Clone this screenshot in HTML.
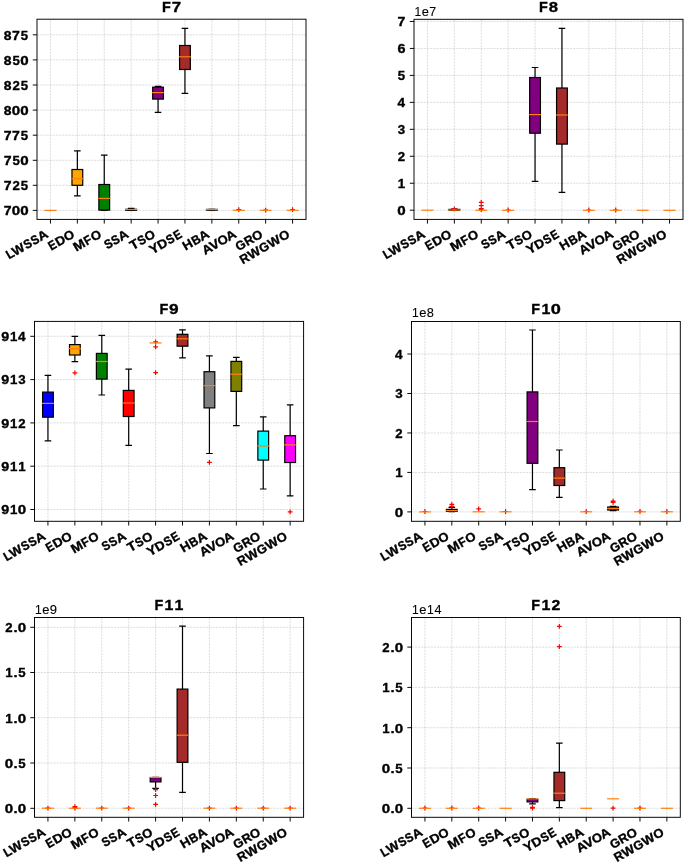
<!DOCTYPE html><html><head><meta charset="utf-8"><style>html,body{margin:0;padding:0;background:#fff;}svg{display:block;}svg{will-change:transform}</style></head><body><svg width="685" height="864" viewBox="0 0 685 864" font-family="Liberation Sans, sans-serif">
<rect width="685" height="864" fill="#fff"/>
<clipPath id="c0"><rect x="37" y="19.2" width="269" height="200.2"/></clipPath>
<path d="M50.45 219.4V19.2M77.35 219.4V19.2M104.25 219.4V19.2M131.15 219.4V19.2M158.05 219.4V19.2M184.95 219.4V19.2M211.85 219.4V19.2M238.75 219.4V19.2M265.65 219.4V19.2M292.55 219.4V19.2M37 210.4H306M37 185.3H306M37 160.3H306M37 135.2H306M37 110.1H306M37 85H306M37 59.9H306M37 34.8H306" stroke="#b0b0b0" stroke-width="0.6" stroke-opacity="0.7" stroke-dasharray="2.22 0.96" fill="none" clip-path="url(#c0)"/>
<path d="M45.07 210.4H55.83" stroke="#ff7f0e" stroke-width="1.2" stroke-linecap="square"/>
<path d="M77.35 185.3V195.8 M77.35 169.5V150.95 M74.66 195.8H80.04 M74.66 150.95H80.04" stroke="#000" stroke-width="1.2" stroke-linecap="square" fill="none"/>
<rect x="71.97" y="169.5" width="10.76" height="15.8" fill="#ffa500" stroke="#000" stroke-width="1.2"/>
<path d="M71.97 178.7H82.73" stroke="#ff7f0e" stroke-width="1.2" stroke-linecap="square"/>
<path d="M104.25 210.1V210.3 M104.25 184.5V155.2 M101.56 210.3H106.94 M101.56 155.2H106.94" stroke="#000" stroke-width="1.2" stroke-linecap="square" fill="none"/>
<rect x="98.87" y="184.5" width="10.76" height="25.6" fill="#008000" stroke="#000" stroke-width="1.2"/>
<path d="M98.87 198.4H109.63" stroke="#ff7f0e" stroke-width="1.2" stroke-linecap="square"/>
<path d="M131.15 210.3V210.4 M131.15 209.3V208.3 M128.46 210.4H133.84 M128.46 208.3H133.84" stroke="#000" stroke-width="1.2" stroke-linecap="square" fill="none"/>
<rect x="125.77" y="209.3" width="10.76" height="1" fill="#ff0000" stroke="#000" stroke-width="1.2"/>
<path d="M125.77 209.5H136.53" stroke="#ff7f0e" stroke-width="1.2" stroke-linecap="square"/>
<path d="M158.05 99.1V112.4 M158.05 87.2V86.3 M155.36 112.4H160.74 M155.36 86.3H160.74" stroke="#000" stroke-width="1.2" stroke-linecap="square" fill="none"/>
<rect x="152.67" y="87.2" width="10.76" height="11.9" fill="#800080" stroke="#000" stroke-width="1.2"/>
<path d="M152.67 92.6H163.43" stroke="#ff7f0e" stroke-width="1.2" stroke-linecap="square"/>
<path d="M184.95 69.5V93.3 M184.95 45.5V28.3 M182.26 93.3H187.64 M182.26 28.3H187.64" stroke="#000" stroke-width="1.2" stroke-linecap="square" fill="none"/>
<rect x="179.57" y="45.5" width="10.76" height="24" fill="#a52a2a" stroke="#000" stroke-width="1.2"/>
<path d="M179.57 56.8H190.33" stroke="#ff7f0e" stroke-width="1.2" stroke-linecap="square"/>
<path d="M211.85 210.2V210.4 M211.85 209.4V209.3 M209.16 210.4H214.54 M209.16 209.3H214.54" stroke="#000" stroke-width="1.2" stroke-linecap="square" fill="none"/>
<rect x="206.47" y="209.4" width="10.76" height="0.8" fill="#808080" stroke="#000" stroke-width="1.2"/>
<path d="M206.47 209.6H217.23" stroke="#ff7f0e" stroke-width="1.2" stroke-linecap="square"/>
<path d="M236.35 209.6H241.15 M238.75 207.2V212" stroke="#f00" stroke-width="1.2" fill="none"/>
<path d="M233.37 210.3H244.13" stroke="#ff7f0e" stroke-width="1.2" stroke-linecap="square"/>
<path d="M263.25 210.1H268.05 M265.65 207.7V212.5" stroke="#f00" stroke-width="1.2" fill="none"/>
<path d="M260.27 210.3H271.03" stroke="#ff7f0e" stroke-width="1.2" stroke-linecap="square"/>
<path d="M290.15 209.6H294.95 M292.55 207.2V212" stroke="#f00" stroke-width="1.2" fill="none"/>
<path d="M287.17 210.3H297.93" stroke="#ff7f0e" stroke-width="1.2" stroke-linecap="square"/>
<rect x="37" y="19.2" width="269" height="200.2" fill="none" stroke="#000" stroke-width="0.96"/>
<path d="M50.45 219.4v4.2M77.35 219.4v4.2M104.25 219.4v4.2M131.15 219.4v4.2M158.05 219.4v4.2M184.95 219.4v4.2M211.85 219.4v4.2M238.75 219.4v4.2M265.65 219.4v4.2M292.55 219.4v4.2M37 210.4h-4.2M37 185.3h-4.2M37 160.3h-4.2M37 135.2h-4.2M37 110.1h-4.2M37 85h-4.2M37 59.9h-4.2M37 34.8h-4.2" stroke="#000" stroke-width="0.96"/>
<text y="0" font-size="12.72" font-weight="bold" transform="translate(3.55 215.26)" stroke="#000" stroke-width="0.35"><tspan x="0.2" textLength="7.81" lengthAdjust="spacingAndGlyphs">7</tspan><tspan x="8.32" textLength="8.42" lengthAdjust="spacingAndGlyphs">0</tspan><tspan x="16.67" textLength="8.42" lengthAdjust="spacingAndGlyphs">0</tspan></text>
<text y="0" font-size="12.72" font-weight="bold" transform="translate(3.55 190.16)" stroke="#000" stroke-width="0.35"><tspan x="0.2" textLength="7.81" lengthAdjust="spacingAndGlyphs">7</tspan><tspan x="8.84" textLength="7.34" lengthAdjust="spacingAndGlyphs">2</tspan><tspan x="17.22" textLength="7.36" lengthAdjust="spacingAndGlyphs">5</tspan></text>
<text y="0" font-size="12.72" font-weight="bold" transform="translate(3.55 165.16)" stroke="#000" stroke-width="0.35"><tspan x="0.2" textLength="7.81" lengthAdjust="spacingAndGlyphs">7</tspan><tspan x="8.87" textLength="7.36" lengthAdjust="spacingAndGlyphs">5</tspan><tspan x="16.67" textLength="8.42" lengthAdjust="spacingAndGlyphs">0</tspan></text>
<text y="0" font-size="12.72" font-weight="bold" transform="translate(3.55 140.06)" stroke="#000" stroke-width="0.35"><tspan x="0.2" textLength="7.81" lengthAdjust="spacingAndGlyphs">7</tspan><tspan x="8.55" textLength="7.81" lengthAdjust="spacingAndGlyphs">7</tspan><tspan x="17.22" textLength="7.36" lengthAdjust="spacingAndGlyphs">5</tspan></text>
<text y="0" font-size="12.72" font-weight="bold" transform="translate(3.55 114.96)" stroke="#000" stroke-width="0.35"><tspan x="0.29" textLength="7.74" lengthAdjust="spacingAndGlyphs">8</tspan><tspan x="8.32" textLength="8.42" lengthAdjust="spacingAndGlyphs">0</tspan><tspan x="16.67" textLength="8.42" lengthAdjust="spacingAndGlyphs">0</tspan></text>
<text y="0" font-size="12.72" font-weight="bold" transform="translate(3.55 89.86)" stroke="#000" stroke-width="0.35"><tspan x="0.29" textLength="7.74" lengthAdjust="spacingAndGlyphs">8</tspan><tspan x="8.84" textLength="7.34" lengthAdjust="spacingAndGlyphs">2</tspan><tspan x="17.22" textLength="7.36" lengthAdjust="spacingAndGlyphs">5</tspan></text>
<text y="0" font-size="12.72" font-weight="bold" transform="translate(3.55 64.76)" stroke="#000" stroke-width="0.35"><tspan x="0.29" textLength="7.74" lengthAdjust="spacingAndGlyphs">8</tspan><tspan x="8.87" textLength="7.36" lengthAdjust="spacingAndGlyphs">5</tspan><tspan x="16.67" textLength="8.42" lengthAdjust="spacingAndGlyphs">0</tspan></text>
<text y="0" font-size="12.72" font-weight="bold" transform="translate(3.55 39.66)" stroke="#000" stroke-width="0.35"><tspan x="0.29" textLength="7.74" lengthAdjust="spacingAndGlyphs">8</tspan><tspan x="8.55" textLength="7.81" lengthAdjust="spacingAndGlyphs">7</tspan><tspan x="17.22" textLength="7.36" lengthAdjust="spacingAndGlyphs">5</tspan></text>
<text y="0" font-size="12.72" font-weight="bold" transform="translate(48.7 236.7) rotate(-30) translate(-45.98 0)" stroke="#000" stroke-width="0.35"><tspan x="0.29" textLength="7.4" lengthAdjust="spacingAndGlyphs">L</tspan><tspan x="7.06" textLength="12.53" lengthAdjust="spacingAndGlyphs">W</tspan><tspan x="20.48" textLength="7.68" lengthAdjust="spacingAndGlyphs">S</tspan><tspan x="28.58" textLength="7.68" lengthAdjust="spacingAndGlyphs">S</tspan><tspan x="36.42" textLength="9.87" lengthAdjust="spacingAndGlyphs">A</tspan></text>
<text y="0" font-size="12.72" font-weight="bold" transform="translate(75.6 236.7) rotate(-30) translate(-28.36 0)" stroke="#000" stroke-width="0.35"><tspan x="0.36" textLength="7.39" lengthAdjust="spacingAndGlyphs">E</tspan><tspan x="8.4" textLength="9.69" lengthAdjust="spacingAndGlyphs">D</tspan><tspan x="18.22" textLength="10.08" lengthAdjust="spacingAndGlyphs">O</tspan></text>
<text y="0" font-size="12.72" font-weight="bold" transform="translate(102.5 236.7) rotate(-30) translate(-30.34 0)" stroke="#000" stroke-width="0.35"><tspan x="0.17" textLength="11.59" lengthAdjust="spacingAndGlyphs">M</tspan><tspan x="12.24" textLength="7.33" lengthAdjust="spacingAndGlyphs">F</tspan><tspan x="20.21" textLength="10.08" lengthAdjust="spacingAndGlyphs">O</tspan></text>
<text y="0" font-size="12.72" font-weight="bold" transform="translate(129.4 236.7) rotate(-30) translate(-26.03 0)" stroke="#000" stroke-width="0.35"><tspan x="0.53" textLength="7.68" lengthAdjust="spacingAndGlyphs">S</tspan><tspan x="8.63" textLength="7.68" lengthAdjust="spacingAndGlyphs">S</tspan><tspan x="16.46" textLength="9.87" lengthAdjust="spacingAndGlyphs">A</tspan></text>
<text y="0" font-size="12.72" font-weight="bold" transform="translate(156.3 236.7) rotate(-30) translate(-27.03 0)" stroke="#000" stroke-width="0.35"><tspan x="-0.1" textLength="8.36" lengthAdjust="spacingAndGlyphs">T</tspan><tspan x="8.71" textLength="7.68" lengthAdjust="spacingAndGlyphs">S</tspan><tspan x="16.89" textLength="10.08" lengthAdjust="spacingAndGlyphs">O</tspan></text>
<text y="0" font-size="12.72" font-weight="bold" transform="translate(183.2 236.7) rotate(-30) translate(-35.49 0)" stroke="#000" stroke-width="0.35"><tspan x="-0.36" textLength="9.39" lengthAdjust="spacingAndGlyphs">Y</tspan><tspan x="8.89" textLength="9.69" lengthAdjust="spacingAndGlyphs">D</tspan><tspan x="19.18" textLength="7.68" lengthAdjust="spacingAndGlyphs">S</tspan><tspan x="27.65" textLength="7.39" lengthAdjust="spacingAndGlyphs">E</tspan></text>
<text y="0" font-size="12.72" font-weight="bold" transform="translate(210.1 236.7) rotate(-30) translate(-28.48 0)" stroke="#000" stroke-width="0.35"><tspan x="0.21" textLength="9.63" lengthAdjust="spacingAndGlyphs">H</tspan><tspan x="10.35" textLength="8.53" lengthAdjust="spacingAndGlyphs">B</tspan><tspan x="18.91" textLength="9.87" lengthAdjust="spacingAndGlyphs">A</tspan></text>
<text y="0" font-size="12.72" font-weight="bold" transform="translate(237 236.7) rotate(-30) translate(-36.71 0)" stroke="#000" stroke-width="0.35"><tspan x="-0.28" textLength="9.87" lengthAdjust="spacingAndGlyphs">A</tspan><tspan x="8.44" textLength="9.36" lengthAdjust="spacingAndGlyphs">V</tspan><tspan x="17.62" textLength="10.08" lengthAdjust="spacingAndGlyphs">O</tspan><tspan x="27.15" textLength="9.87" lengthAdjust="spacingAndGlyphs">A</tspan></text>
<text y="0" font-size="12.72" font-weight="bold" transform="translate(263.9 236.7) rotate(-30) translate(-29.29 0)" stroke="#000" stroke-width="0.35"><tspan x="0.09" textLength="9.64" lengthAdjust="spacingAndGlyphs">G</tspan><tspan x="10.12" textLength="8.99" lengthAdjust="spacingAndGlyphs">R</tspan><tspan x="19.16" textLength="10.08" lengthAdjust="spacingAndGlyphs">O</tspan></text>
<text y="0" font-size="12.72" font-weight="bold" transform="translate(290.8 236.7) rotate(-30) translate(-55.76 0)" stroke="#000" stroke-width="0.35"><tspan x="0.27" textLength="8.99" lengthAdjust="spacingAndGlyphs">R</tspan><tspan x="9.58" textLength="12.53" lengthAdjust="spacingAndGlyphs">W</tspan><tspan x="22.57" textLength="9.64" lengthAdjust="spacingAndGlyphs">G</tspan><tspan x="32.67" textLength="12.53" lengthAdjust="spacingAndGlyphs">W</tspan><tspan x="45.63" textLength="10.08" lengthAdjust="spacingAndGlyphs">O</tspan></text>
<text y="0" font-size="15.26" font-weight="bold" transform="translate(161.57 12)" stroke="#000" stroke-width="0.35"><tspan x="0.36" textLength="8.8" lengthAdjust="spacingAndGlyphs">F</tspan><tspan x="10.08" textLength="9.38" lengthAdjust="spacingAndGlyphs">7</tspan></text>
<clipPath id="c1"><rect x="414" y="19.3" width="269" height="200.1"/></clipPath>
<path d="M427.45 219.4V19.3M454.35 219.4V19.3M481.25 219.4V19.3M508.15 219.4V19.3M535.05 219.4V19.3M561.95 219.4V19.3M588.85 219.4V19.3M615.75 219.4V19.3M642.65 219.4V19.3M669.55 219.4V19.3M414 210.2H683M414 183.24H683M414 156.28H683M414 129.32H683M414 102.36H683M414 75.4H683M414 48.44H683M414 21.48H683" stroke="#b0b0b0" stroke-width="0.6" stroke-opacity="0.7" stroke-dasharray="2.22 0.96" fill="none" clip-path="url(#c1)"/>
<path d="M422.07 210.2H432.83" stroke="#ff7f0e" stroke-width="1.2" stroke-linecap="square"/>
<path d="M454.35 210.2V210.4 M454.35 209.4V209.2 M451.66 210.4H457.04 M451.66 209.2H457.04" stroke="#000" stroke-width="1.2" stroke-linecap="square" fill="none"/>
<rect x="448.97" y="209.4" width="10.76" height="0.8" fill="#ffa500" stroke="#000" stroke-width="1.2"/>
<path d="M451.95 208.9H456.75 M454.35 206.5V211.3" stroke="#f00" stroke-width="1.2" fill="none"/>
<path d="M448.97 210H459.73" stroke="#ff7f0e" stroke-width="1.2" stroke-linecap="square"/>
<path d="M478.85 202.3H483.65 M481.25 199.9V204.7M478.85 205.6H483.65 M481.25 203.2V208M478.85 208.5H483.65 M481.25 206.1V210.9M478.85 209.5H483.65 M481.25 207.1V211.9" stroke="#f00" stroke-width="1.2" fill="none"/>
<path d="M475.87 210.3H486.63" stroke="#ff7f0e" stroke-width="1.2" stroke-linecap="square"/>
<path d="M505.75 210H510.55 M508.15 207.6V212.4" stroke="#f00" stroke-width="1.2" fill="none"/>
<path d="M502.77 210.3H513.53" stroke="#ff7f0e" stroke-width="1.2" stroke-linecap="square"/>
<path d="M535.05 133.2V181.3 M535.05 77.5V67.5 M532.36 181.3H537.74 M532.36 67.5H537.74" stroke="#000" stroke-width="1.2" stroke-linecap="square" fill="none"/>
<rect x="529.67" y="77.5" width="10.76" height="55.7" fill="#800080" stroke="#000" stroke-width="1.2"/>
<path d="M529.67 114.6H540.43" stroke="#ff7f0e" stroke-width="1.2" stroke-linecap="square"/>
<path d="M561.95 144.1V192.3 M561.95 88V28.3 M559.26 192.3H564.64 M559.26 28.3H564.64" stroke="#000" stroke-width="1.2" stroke-linecap="square" fill="none"/>
<rect x="556.57" y="88" width="10.76" height="56.1" fill="#a52a2a" stroke="#000" stroke-width="1.2"/>
<path d="M556.57 115H567.33" stroke="#ff7f0e" stroke-width="1.2" stroke-linecap="square"/>
<path d="M586.45 210H591.25 M588.85 207.6V212.4" stroke="#f00" stroke-width="1.2" fill="none"/>
<path d="M583.47 210.3H594.23" stroke="#ff7f0e" stroke-width="1.2" stroke-linecap="square"/>
<path d="M613.35 210H618.15 M615.75 207.6V212.4" stroke="#f00" stroke-width="1.2" fill="none"/>
<path d="M610.37 210.3H621.13" stroke="#ff7f0e" stroke-width="1.2" stroke-linecap="square"/>
<path d="M637.27 210.3H648.03" stroke="#ff7f0e" stroke-width="1.2" stroke-linecap="square"/>
<path d="M664.17 210.3H674.93" stroke="#ff7f0e" stroke-width="1.2" stroke-linecap="square"/>
<rect x="414" y="19.3" width="269" height="200.1" fill="none" stroke="#000" stroke-width="0.96"/>
<path d="M427.45 219.4v4.2M454.35 219.4v4.2M481.25 219.4v4.2M508.15 219.4v4.2M535.05 219.4v4.2M561.95 219.4v4.2M588.85 219.4v4.2M615.75 219.4v4.2M642.65 219.4v4.2M669.55 219.4v4.2M414 210.2h-4.2M414 183.24h-4.2M414 156.28h-4.2M414 129.32h-4.2M414 102.36h-4.2M414 75.4h-4.2M414 48.44h-4.2M414 21.48h-4.2" stroke="#000" stroke-width="0.96"/>
<text y="0" font-size="12.72" font-weight="bold" transform="translate(397.25 215.06)" stroke="#000" stroke-width="0.35"><tspan x="-0.02" textLength="8.42" lengthAdjust="spacingAndGlyphs">0</tspan></text>
<text y="0" font-size="12.72" font-weight="bold" transform="translate(397.25 188.1)" stroke="#000" stroke-width="0.35"><tspan x="0.52" textLength="7.37" lengthAdjust="spacingAndGlyphs">1</tspan></text>
<text y="0" font-size="12.72" font-weight="bold" transform="translate(397.25 161.14)" stroke="#000" stroke-width="0.35"><tspan x="0.49" textLength="7.34" lengthAdjust="spacingAndGlyphs">2</tspan></text>
<text y="0" font-size="12.72" font-weight="bold" transform="translate(397.25 134.18)" stroke="#000" stroke-width="0.35"><tspan x="0.5" textLength="7.38" lengthAdjust="spacingAndGlyphs">3</tspan></text>
<text y="0" font-size="12.72" font-weight="bold" transform="translate(397.25 107.22)" stroke="#000" stroke-width="0.35"><tspan x="0.33" textLength="7.54" lengthAdjust="spacingAndGlyphs">4</tspan></text>
<text y="0" font-size="12.72" font-weight="bold" transform="translate(397.25 80.26)" stroke="#000" stroke-width="0.35"><tspan x="0.52" textLength="7.36" lengthAdjust="spacingAndGlyphs">5</tspan></text>
<text y="0" font-size="12.72" font-weight="bold" transform="translate(397.25 53.3)" stroke="#000" stroke-width="0.35"><tspan x="0.22" textLength="8.01" lengthAdjust="spacingAndGlyphs">6</tspan></text>
<text y="0" font-size="12.72" font-weight="bold" transform="translate(397.25 26.34)" stroke="#000" stroke-width="0.35"><tspan x="0.2" textLength="7.81" lengthAdjust="spacingAndGlyphs">7</tspan></text>
<text y="0" font-size="12.72" font-weight="bold" transform="translate(425.7 236.7) rotate(-30) translate(-45.98 0)" stroke="#000" stroke-width="0.35"><tspan x="0.29" textLength="7.4" lengthAdjust="spacingAndGlyphs">L</tspan><tspan x="7.06" textLength="12.53" lengthAdjust="spacingAndGlyphs">W</tspan><tspan x="20.48" textLength="7.68" lengthAdjust="spacingAndGlyphs">S</tspan><tspan x="28.58" textLength="7.68" lengthAdjust="spacingAndGlyphs">S</tspan><tspan x="36.42" textLength="9.87" lengthAdjust="spacingAndGlyphs">A</tspan></text>
<text y="0" font-size="12.72" font-weight="bold" transform="translate(452.6 236.7) rotate(-30) translate(-28.36 0)" stroke="#000" stroke-width="0.35"><tspan x="0.36" textLength="7.39" lengthAdjust="spacingAndGlyphs">E</tspan><tspan x="8.4" textLength="9.69" lengthAdjust="spacingAndGlyphs">D</tspan><tspan x="18.22" textLength="10.08" lengthAdjust="spacingAndGlyphs">O</tspan></text>
<text y="0" font-size="12.72" font-weight="bold" transform="translate(479.5 236.7) rotate(-30) translate(-30.34 0)" stroke="#000" stroke-width="0.35"><tspan x="0.17" textLength="11.59" lengthAdjust="spacingAndGlyphs">M</tspan><tspan x="12.24" textLength="7.33" lengthAdjust="spacingAndGlyphs">F</tspan><tspan x="20.21" textLength="10.08" lengthAdjust="spacingAndGlyphs">O</tspan></text>
<text y="0" font-size="12.72" font-weight="bold" transform="translate(506.4 236.7) rotate(-30) translate(-26.03 0)" stroke="#000" stroke-width="0.35"><tspan x="0.53" textLength="7.68" lengthAdjust="spacingAndGlyphs">S</tspan><tspan x="8.63" textLength="7.68" lengthAdjust="spacingAndGlyphs">S</tspan><tspan x="16.46" textLength="9.87" lengthAdjust="spacingAndGlyphs">A</tspan></text>
<text y="0" font-size="12.72" font-weight="bold" transform="translate(533.3 236.7) rotate(-30) translate(-27.03 0)" stroke="#000" stroke-width="0.35"><tspan x="-0.1" textLength="8.36" lengthAdjust="spacingAndGlyphs">T</tspan><tspan x="8.71" textLength="7.68" lengthAdjust="spacingAndGlyphs">S</tspan><tspan x="16.89" textLength="10.08" lengthAdjust="spacingAndGlyphs">O</tspan></text>
<text y="0" font-size="12.72" font-weight="bold" transform="translate(560.2 236.7) rotate(-30) translate(-35.49 0)" stroke="#000" stroke-width="0.35"><tspan x="-0.36" textLength="9.39" lengthAdjust="spacingAndGlyphs">Y</tspan><tspan x="8.89" textLength="9.69" lengthAdjust="spacingAndGlyphs">D</tspan><tspan x="19.18" textLength="7.68" lengthAdjust="spacingAndGlyphs">S</tspan><tspan x="27.65" textLength="7.39" lengthAdjust="spacingAndGlyphs">E</tspan></text>
<text y="0" font-size="12.72" font-weight="bold" transform="translate(587.1 236.7) rotate(-30) translate(-28.48 0)" stroke="#000" stroke-width="0.35"><tspan x="0.21" textLength="9.63" lengthAdjust="spacingAndGlyphs">H</tspan><tspan x="10.35" textLength="8.53" lengthAdjust="spacingAndGlyphs">B</tspan><tspan x="18.91" textLength="9.87" lengthAdjust="spacingAndGlyphs">A</tspan></text>
<text y="0" font-size="12.72" font-weight="bold" transform="translate(614 236.7) rotate(-30) translate(-36.71 0)" stroke="#000" stroke-width="0.35"><tspan x="-0.28" textLength="9.87" lengthAdjust="spacingAndGlyphs">A</tspan><tspan x="8.44" textLength="9.36" lengthAdjust="spacingAndGlyphs">V</tspan><tspan x="17.62" textLength="10.08" lengthAdjust="spacingAndGlyphs">O</tspan><tspan x="27.15" textLength="9.87" lengthAdjust="spacingAndGlyphs">A</tspan></text>
<text y="0" font-size="12.72" font-weight="bold" transform="translate(640.9 236.7) rotate(-30) translate(-29.29 0)" stroke="#000" stroke-width="0.35"><tspan x="0.09" textLength="9.64" lengthAdjust="spacingAndGlyphs">G</tspan><tspan x="10.12" textLength="8.99" lengthAdjust="spacingAndGlyphs">R</tspan><tspan x="19.16" textLength="10.08" lengthAdjust="spacingAndGlyphs">O</tspan></text>
<text y="0" font-size="12.72" font-weight="bold" transform="translate(667.8 236.7) rotate(-30) translate(-55.76 0)" stroke="#000" stroke-width="0.35"><tspan x="0.27" textLength="8.99" lengthAdjust="spacingAndGlyphs">R</tspan><tspan x="9.58" textLength="12.53" lengthAdjust="spacingAndGlyphs">W</tspan><tspan x="22.57" textLength="9.64" lengthAdjust="spacingAndGlyphs">G</tspan><tspan x="32.67" textLength="12.53" lengthAdjust="spacingAndGlyphs">W</tspan><tspan x="45.63" textLength="10.08" lengthAdjust="spacingAndGlyphs">O</tspan></text>
<text y="0" font-size="15.26" font-weight="bold" transform="translate(538.57 12.1)" stroke="#000" stroke-width="0.35"><tspan x="0.36" textLength="8.8" lengthAdjust="spacingAndGlyphs">F</tspan><tspan x="10.19" textLength="9.29" lengthAdjust="spacingAndGlyphs">8</tspan></text>
<text y="0" font-size="12.72" font-weight="normal" transform="translate(414 16)" stroke="#000" stroke-width="0.1"><tspan x="0.4" textLength="6.72" lengthAdjust="spacingAndGlyphs">1</tspan><tspan x="7.75" textLength="7.21" lengthAdjust="spacingAndGlyphs">e</tspan><tspan x="15.37" textLength="6.88" lengthAdjust="spacingAndGlyphs">7</tspan></text>
<clipPath id="c2"><rect x="34.5" y="321.4" width="269.1" height="199.9"/></clipPath>
<path d="M47.95 521.3V321.4M74.87 521.3V321.4M101.78 521.3V321.4M128.69 521.3V321.4M155.6 521.3V321.4M182.51 521.3V321.4M209.42 521.3V321.4M236.33 521.3V321.4M263.24 521.3V321.4M290.15 521.3V321.4M34.5 509.5H303.6M34.5 466.2H303.6M34.5 422.9H303.6M34.5 379.6H303.6M34.5 336.3H303.6" stroke="#b0b0b0" stroke-width="0.6" stroke-opacity="0.7" stroke-dasharray="2.22 0.96" fill="none" clip-path="url(#c2)"/>
<path d="M47.95 417.2V440.8 M47.95 392.1V375.4 M45.26 440.8H50.65 M45.26 375.4H50.65" stroke="#000" stroke-width="1.2" stroke-linecap="square" fill="none"/>
<rect x="42.57" y="392.1" width="10.76" height="25.1" fill="#0000ff" stroke="#000" stroke-width="1.2"/>
<path d="M42.57 403.4H53.34" stroke="#ff7f0e" stroke-width="1.2" stroke-linecap="square"/>
<path d="M74.87 355V361.6 M74.87 344.6V336.4 M72.17 361.6H77.56 M72.17 336.4H77.56" stroke="#000" stroke-width="1.2" stroke-linecap="square" fill="none"/>
<rect x="69.48" y="344.6" width="10.76" height="10.4" fill="#ffa500" stroke="#000" stroke-width="1.2"/>
<path d="M72.47 372.9H77.27 M74.87 370.5V375.3" stroke="#f00" stroke-width="1.2" fill="none"/>
<path d="M69.48 348.6H80.25" stroke="#ff7f0e" stroke-width="1.2" stroke-linecap="square"/>
<path d="M101.78 379.1V395 M101.78 353.4V335.4 M99.08 395H104.47 M99.08 335.4H104.47" stroke="#000" stroke-width="1.2" stroke-linecap="square" fill="none"/>
<rect x="96.39" y="353.4" width="10.76" height="25.7" fill="#008000" stroke="#000" stroke-width="1.2"/>
<path d="M96.39 361.5H107.16" stroke="#ff7f0e" stroke-width="1.2" stroke-linecap="square"/>
<path d="M128.69 416.5V445.3 M128.69 390.4V369.2 M125.99 445.3H131.38 M125.99 369.2H131.38" stroke="#000" stroke-width="1.2" stroke-linecap="square" fill="none"/>
<rect x="123.3" y="390.4" width="10.76" height="26.1" fill="#ff0000" stroke="#000" stroke-width="1.2"/>
<path d="M123.3 403H134.07" stroke="#ff7f0e" stroke-width="1.2" stroke-linecap="square"/>
<path d="M153.2 341.9H158 M155.6 339.5V344.3M153.2 346.9H158 M155.6 344.5V349.3M153.2 372.6H158 M155.6 370.2V375" stroke="#f00" stroke-width="1.2" fill="none"/>
<path d="M150.21 342.9H160.98" stroke="#ff7f0e" stroke-width="1.2" stroke-linecap="square"/>
<path d="M182.51 346.2V357.8 M182.51 334.3V329.8 M179.81 357.8H185.2 M179.81 329.8H185.2" stroke="#000" stroke-width="1.2" stroke-linecap="square" fill="none"/>
<rect x="177.12" y="334.3" width="10.76" height="11.9" fill="#a52a2a" stroke="#000" stroke-width="1.2"/>
<path d="M177.12 338.8H187.89" stroke="#ff7f0e" stroke-width="1.2" stroke-linecap="square"/>
<path d="M209.42 407.9V453.5 M209.42 371.7V355.9 M206.72 453.5H212.11 M206.72 355.9H212.11" stroke="#000" stroke-width="1.2" stroke-linecap="square" fill="none"/>
<rect x="204.03" y="371.7" width="10.76" height="36.2" fill="#808080" stroke="#000" stroke-width="1.2"/>
<path d="M207.02 462.4H211.82 M209.42 460V464.8" stroke="#f00" stroke-width="1.2" fill="none"/>
<path d="M204.03 385.6H214.8" stroke="#ff7f0e" stroke-width="1.2" stroke-linecap="square"/>
<path d="M236.33 391.4V425.7 M236.33 361.4V357.3 M233.63 425.7H239.02 M233.63 357.3H239.02" stroke="#000" stroke-width="1.2" stroke-linecap="square" fill="none"/>
<rect x="230.94" y="361.4" width="10.76" height="30" fill="#808000" stroke="#000" stroke-width="1.2"/>
<path d="M230.94 374.2H241.71" stroke="#ff7f0e" stroke-width="1.2" stroke-linecap="square"/>
<path d="M263.24 460.1V489 M263.24 431.1V416.8 M260.54 489H265.93 M260.54 416.8H265.93" stroke="#000" stroke-width="1.2" stroke-linecap="square" fill="none"/>
<rect x="257.85" y="431.1" width="10.76" height="29" fill="#00ffff" stroke="#000" stroke-width="1.2"/>
<path d="M257.85 446H268.62" stroke="#ff7f0e" stroke-width="1.2" stroke-linecap="square"/>
<path d="M290.15 462.5V495.8 M290.15 435.7V404.9 M287.45 495.8H292.84 M287.45 404.9H292.84" stroke="#000" stroke-width="1.2" stroke-linecap="square" fill="none"/>
<rect x="284.76" y="435.7" width="10.76" height="26.8" fill="#ff00ff" stroke="#000" stroke-width="1.2"/>
<path d="M287.75 511.8H292.55 M290.15 509.4V514.2" stroke="#f00" stroke-width="1.2" fill="none"/>
<path d="M284.76 444.9H295.53" stroke="#ff7f0e" stroke-width="1.2" stroke-linecap="square"/>
<rect x="34.5" y="321.4" width="269.1" height="199.9" fill="none" stroke="#000" stroke-width="0.96"/>
<path d="M47.95 521.3v4.2M74.87 521.3v4.2M101.78 521.3v4.2M128.69 521.3v4.2M155.6 521.3v4.2M182.51 521.3v4.2M209.42 521.3v4.2M236.33 521.3v4.2M263.24 521.3v4.2M290.15 521.3v4.2M34.5 509.5h-4.2M34.5 466.2h-4.2M34.5 422.9h-4.2M34.5 379.6h-4.2M34.5 336.3h-4.2" stroke="#000" stroke-width="0.96"/>
<text y="0" font-size="12.72" font-weight="bold" transform="translate(1.05 514.36)" stroke="#000" stroke-width="0.35"><tspan x="0.12" textLength="7.99" lengthAdjust="spacingAndGlyphs">9</tspan><tspan x="8.87" textLength="7.37" lengthAdjust="spacingAndGlyphs">1</tspan><tspan x="16.67" textLength="8.42" lengthAdjust="spacingAndGlyphs">0</tspan></text>
<text y="0" font-size="12.72" font-weight="bold" transform="translate(1.05 471.06)" stroke="#000" stroke-width="0.35"><tspan x="0.12" textLength="7.99" lengthAdjust="spacingAndGlyphs">9</tspan><tspan x="8.87" textLength="7.37" lengthAdjust="spacingAndGlyphs">1</tspan><tspan x="17.22" textLength="7.37" lengthAdjust="spacingAndGlyphs">1</tspan></text>
<text y="0" font-size="12.72" font-weight="bold" transform="translate(1.05 427.76)" stroke="#000" stroke-width="0.35"><tspan x="0.12" textLength="7.99" lengthAdjust="spacingAndGlyphs">9</tspan><tspan x="8.87" textLength="7.37" lengthAdjust="spacingAndGlyphs">1</tspan><tspan x="17.19" textLength="7.34" lengthAdjust="spacingAndGlyphs">2</tspan></text>
<text y="0" font-size="12.72" font-weight="bold" transform="translate(1.05 384.46)" stroke="#000" stroke-width="0.35"><tspan x="0.12" textLength="7.99" lengthAdjust="spacingAndGlyphs">9</tspan><tspan x="8.87" textLength="7.37" lengthAdjust="spacingAndGlyphs">1</tspan><tspan x="17.2" textLength="7.38" lengthAdjust="spacingAndGlyphs">3</tspan></text>
<text y="0" font-size="12.72" font-weight="bold" transform="translate(1.05 341.16)" stroke="#000" stroke-width="0.35"><tspan x="0.12" textLength="7.99" lengthAdjust="spacingAndGlyphs">9</tspan><tspan x="8.87" textLength="7.37" lengthAdjust="spacingAndGlyphs">1</tspan><tspan x="17.03" textLength="7.54" lengthAdjust="spacingAndGlyphs">4</tspan></text>
<text y="0" font-size="12.72" font-weight="bold" transform="translate(46.2 538.6) rotate(-30) translate(-45.98 0)" stroke="#000" stroke-width="0.35"><tspan x="0.29" textLength="7.4" lengthAdjust="spacingAndGlyphs">L</tspan><tspan x="7.06" textLength="12.53" lengthAdjust="spacingAndGlyphs">W</tspan><tspan x="20.48" textLength="7.68" lengthAdjust="spacingAndGlyphs">S</tspan><tspan x="28.58" textLength="7.68" lengthAdjust="spacingAndGlyphs">S</tspan><tspan x="36.42" textLength="9.87" lengthAdjust="spacingAndGlyphs">A</tspan></text>
<text y="0" font-size="12.72" font-weight="bold" transform="translate(73.12 538.6) rotate(-30) translate(-28.36 0)" stroke="#000" stroke-width="0.35"><tspan x="0.36" textLength="7.39" lengthAdjust="spacingAndGlyphs">E</tspan><tspan x="8.4" textLength="9.69" lengthAdjust="spacingAndGlyphs">D</tspan><tspan x="18.22" textLength="10.08" lengthAdjust="spacingAndGlyphs">O</tspan></text>
<text y="0" font-size="12.72" font-weight="bold" transform="translate(100.03 538.6) rotate(-30) translate(-30.34 0)" stroke="#000" stroke-width="0.35"><tspan x="0.17" textLength="11.59" lengthAdjust="spacingAndGlyphs">M</tspan><tspan x="12.24" textLength="7.33" lengthAdjust="spacingAndGlyphs">F</tspan><tspan x="20.21" textLength="10.08" lengthAdjust="spacingAndGlyphs">O</tspan></text>
<text y="0" font-size="12.72" font-weight="bold" transform="translate(126.94 538.6) rotate(-30) translate(-26.03 0)" stroke="#000" stroke-width="0.35"><tspan x="0.53" textLength="7.68" lengthAdjust="spacingAndGlyphs">S</tspan><tspan x="8.63" textLength="7.68" lengthAdjust="spacingAndGlyphs">S</tspan><tspan x="16.46" textLength="9.87" lengthAdjust="spacingAndGlyphs">A</tspan></text>
<text y="0" font-size="12.72" font-weight="bold" transform="translate(153.85 538.6) rotate(-30) translate(-27.03 0)" stroke="#000" stroke-width="0.35"><tspan x="-0.1" textLength="8.36" lengthAdjust="spacingAndGlyphs">T</tspan><tspan x="8.71" textLength="7.68" lengthAdjust="spacingAndGlyphs">S</tspan><tspan x="16.89" textLength="10.08" lengthAdjust="spacingAndGlyphs">O</tspan></text>
<text y="0" font-size="12.72" font-weight="bold" transform="translate(180.76 538.6) rotate(-30) translate(-35.49 0)" stroke="#000" stroke-width="0.35"><tspan x="-0.36" textLength="9.39" lengthAdjust="spacingAndGlyphs">Y</tspan><tspan x="8.89" textLength="9.69" lengthAdjust="spacingAndGlyphs">D</tspan><tspan x="19.18" textLength="7.68" lengthAdjust="spacingAndGlyphs">S</tspan><tspan x="27.65" textLength="7.39" lengthAdjust="spacingAndGlyphs">E</tspan></text>
<text y="0" font-size="12.72" font-weight="bold" transform="translate(207.67 538.6) rotate(-30) translate(-28.48 0)" stroke="#000" stroke-width="0.35"><tspan x="0.21" textLength="9.63" lengthAdjust="spacingAndGlyphs">H</tspan><tspan x="10.35" textLength="8.53" lengthAdjust="spacingAndGlyphs">B</tspan><tspan x="18.91" textLength="9.87" lengthAdjust="spacingAndGlyphs">A</tspan></text>
<text y="0" font-size="12.72" font-weight="bold" transform="translate(234.58 538.6) rotate(-30) translate(-36.71 0)" stroke="#000" stroke-width="0.35"><tspan x="-0.28" textLength="9.87" lengthAdjust="spacingAndGlyphs">A</tspan><tspan x="8.44" textLength="9.36" lengthAdjust="spacingAndGlyphs">V</tspan><tspan x="17.62" textLength="10.08" lengthAdjust="spacingAndGlyphs">O</tspan><tspan x="27.15" textLength="9.87" lengthAdjust="spacingAndGlyphs">A</tspan></text>
<text y="0" font-size="12.72" font-weight="bold" transform="translate(261.49 538.6) rotate(-30) translate(-29.29 0)" stroke="#000" stroke-width="0.35"><tspan x="0.09" textLength="9.64" lengthAdjust="spacingAndGlyphs">G</tspan><tspan x="10.12" textLength="8.99" lengthAdjust="spacingAndGlyphs">R</tspan><tspan x="19.16" textLength="10.08" lengthAdjust="spacingAndGlyphs">O</tspan></text>
<text y="0" font-size="12.72" font-weight="bold" transform="translate(288.4 538.6) rotate(-30) translate(-55.76 0)" stroke="#000" stroke-width="0.35"><tspan x="0.27" textLength="8.99" lengthAdjust="spacingAndGlyphs">R</tspan><tspan x="9.58" textLength="12.53" lengthAdjust="spacingAndGlyphs">W</tspan><tspan x="22.57" textLength="9.64" lengthAdjust="spacingAndGlyphs">G</tspan><tspan x="32.67" textLength="12.53" lengthAdjust="spacingAndGlyphs">W</tspan><tspan x="45.63" textLength="10.08" lengthAdjust="spacingAndGlyphs">O</tspan></text>
<text y="0" font-size="15.26" font-weight="bold" transform="translate(159.12 314.2)" stroke="#000" stroke-width="0.35"><tspan x="0.36" textLength="8.8" lengthAdjust="spacingAndGlyphs">F</tspan><tspan x="9.98" textLength="9.59" lengthAdjust="spacingAndGlyphs">9</tspan></text>
<clipPath id="c3"><rect x="411.5" y="321.5" width="268.8" height="199.8"/></clipPath>
<path d="M424.94 521.3V321.5M451.82 521.3V321.5M478.7 521.3V321.5M505.58 521.3V321.5M532.46 521.3V321.5M559.34 521.3V321.5M586.22 521.3V321.5M613.1 521.3V321.5M639.98 521.3V321.5M666.86 521.3V321.5M411.5 511.9H680.3M411.5 472.43H680.3M411.5 432.96H680.3M411.5 393.49H680.3M411.5 354.02H680.3" stroke="#b0b0b0" stroke-width="0.6" stroke-opacity="0.7" stroke-dasharray="2.22 0.96" fill="none" clip-path="url(#c3)"/>
<path d="M422.54 511.5H427.34 M424.94 509.1V513.9" stroke="#f00" stroke-width="1.2" fill="none"/>
<path d="M419.56 511.9H430.32" stroke="#ff7f0e" stroke-width="1.2" stroke-linecap="square"/>
<path d="M451.82 511.4V511.6 M451.82 509.4V507.4 M449.13 511.6H454.51 M449.13 507.4H454.51" stroke="#000" stroke-width="1.2" stroke-linecap="square" fill="none"/>
<rect x="446.44" y="509.4" width="10.75" height="2" fill="#ffa500" stroke="#000" stroke-width="1.2"/>
<path d="M449.42 504.3H454.22 M451.82 501.9V506.7M449.42 506.3H454.22 M451.82 503.9V508.7" stroke="#f00" stroke-width="1.2" fill="none"/>
<path d="M446.44 510.7H457.2" stroke="#ff7f0e" stroke-width="1.2" stroke-linecap="square"/>
<path d="M476.3 508.9H481.1 M478.7 506.5V511.3" stroke="#f00" stroke-width="1.2" fill="none"/>
<path d="M473.32 511.8H484.08" stroke="#ff7f0e" stroke-width="1.2" stroke-linecap="square"/>
<path d="M503.18 511.5H507.98 M505.58 509.1V513.9" stroke="#f00" stroke-width="1.2" fill="none"/>
<path d="M500.2 511.8H510.96" stroke="#ff7f0e" stroke-width="1.2" stroke-linecap="square"/>
<path d="M532.46 463.3V489.7 M532.46 391.9V330 M529.77 489.7H535.15 M529.77 330H535.15" stroke="#000" stroke-width="1.2" stroke-linecap="square" fill="none"/>
<rect x="527.08" y="391.9" width="10.75" height="71.4" fill="#800080" stroke="#000" stroke-width="1.2"/>
<path d="M527.08 421.5H537.84" stroke="#ff7f0e" stroke-width="1.2" stroke-linecap="square"/>
<path d="M559.34 485.5V497.3 M559.34 467.7V450 M556.65 497.3H562.03 M556.65 450H562.03" stroke="#000" stroke-width="1.2" stroke-linecap="square" fill="none"/>
<rect x="553.96" y="467.7" width="10.75" height="17.8" fill="#a52a2a" stroke="#000" stroke-width="1.2"/>
<path d="M553.96 478.1H564.72" stroke="#ff7f0e" stroke-width="1.2" stroke-linecap="square"/>
<path d="M583.82 511.5H588.62 M586.22 509.1V513.9" stroke="#f00" stroke-width="1.2" fill="none"/>
<path d="M580.84 511.8H591.6" stroke="#ff7f0e" stroke-width="1.2" stroke-linecap="square"/>
<path d="M613.1 510V510.7 M613.1 507V506.3 M610.41 510.7H615.79 M610.41 506.3H615.79" stroke="#000" stroke-width="1.2" stroke-linecap="square" fill="none"/>
<rect x="607.72" y="507" width="10.75" height="3" fill="#808000" stroke="#000" stroke-width="1.2"/>
<path d="M610.7 501.2H615.5 M613.1 498.8V503.6M610.7 502.4H615.5 M613.1 500V504.8" stroke="#f00" stroke-width="1.2" fill="none"/>
<path d="M607.72 508.5H618.48" stroke="#ff7f0e" stroke-width="1.2" stroke-linecap="square"/>
<path d="M637.58 511.3H642.38 M639.98 508.9V513.7" stroke="#f00" stroke-width="1.2" fill="none"/>
<path d="M634.6 511.8H645.36" stroke="#ff7f0e" stroke-width="1.2" stroke-linecap="square"/>
<path d="M664.46 511.5H669.26 M666.86 509.1V513.9" stroke="#f00" stroke-width="1.2" fill="none"/>
<path d="M661.48 511.8H672.24" stroke="#ff7f0e" stroke-width="1.2" stroke-linecap="square"/>
<rect x="411.5" y="321.5" width="268.8" height="199.8" fill="none" stroke="#000" stroke-width="0.96"/>
<path d="M424.94 521.3v4.2M451.82 521.3v4.2M478.7 521.3v4.2M505.58 521.3v4.2M532.46 521.3v4.2M559.34 521.3v4.2M586.22 521.3v4.2M613.1 521.3v4.2M639.98 521.3v4.2M666.86 521.3v4.2M411.5 511.9h-4.2M411.5 472.43h-4.2M411.5 432.96h-4.2M411.5 393.49h-4.2M411.5 354.02h-4.2" stroke="#000" stroke-width="0.96"/>
<text y="0" font-size="12.72" font-weight="bold" transform="translate(394.75 516.76)" stroke="#000" stroke-width="0.35"><tspan x="-0.02" textLength="8.42" lengthAdjust="spacingAndGlyphs">0</tspan></text>
<text y="0" font-size="12.72" font-weight="bold" transform="translate(394.75 477.29)" stroke="#000" stroke-width="0.35"><tspan x="0.52" textLength="7.37" lengthAdjust="spacingAndGlyphs">1</tspan></text>
<text y="0" font-size="12.72" font-weight="bold" transform="translate(394.75 437.82)" stroke="#000" stroke-width="0.35"><tspan x="0.49" textLength="7.34" lengthAdjust="spacingAndGlyphs">2</tspan></text>
<text y="0" font-size="12.72" font-weight="bold" transform="translate(394.75 398.35)" stroke="#000" stroke-width="0.35"><tspan x="0.5" textLength="7.38" lengthAdjust="spacingAndGlyphs">3</tspan></text>
<text y="0" font-size="12.72" font-weight="bold" transform="translate(394.75 358.88)" stroke="#000" stroke-width="0.35"><tspan x="0.33" textLength="7.54" lengthAdjust="spacingAndGlyphs">4</tspan></text>
<text y="0" font-size="12.72" font-weight="bold" transform="translate(423.19 538.6) rotate(-30) translate(-45.98 0)" stroke="#000" stroke-width="0.35"><tspan x="0.29" textLength="7.4" lengthAdjust="spacingAndGlyphs">L</tspan><tspan x="7.06" textLength="12.53" lengthAdjust="spacingAndGlyphs">W</tspan><tspan x="20.48" textLength="7.68" lengthAdjust="spacingAndGlyphs">S</tspan><tspan x="28.58" textLength="7.68" lengthAdjust="spacingAndGlyphs">S</tspan><tspan x="36.42" textLength="9.87" lengthAdjust="spacingAndGlyphs">A</tspan></text>
<text y="0" font-size="12.72" font-weight="bold" transform="translate(450.07 538.6) rotate(-30) translate(-28.36 0)" stroke="#000" stroke-width="0.35"><tspan x="0.36" textLength="7.39" lengthAdjust="spacingAndGlyphs">E</tspan><tspan x="8.4" textLength="9.69" lengthAdjust="spacingAndGlyphs">D</tspan><tspan x="18.22" textLength="10.08" lengthAdjust="spacingAndGlyphs">O</tspan></text>
<text y="0" font-size="12.72" font-weight="bold" transform="translate(476.95 538.6) rotate(-30) translate(-30.34 0)" stroke="#000" stroke-width="0.35"><tspan x="0.17" textLength="11.59" lengthAdjust="spacingAndGlyphs">M</tspan><tspan x="12.24" textLength="7.33" lengthAdjust="spacingAndGlyphs">F</tspan><tspan x="20.21" textLength="10.08" lengthAdjust="spacingAndGlyphs">O</tspan></text>
<text y="0" font-size="12.72" font-weight="bold" transform="translate(503.83 538.6) rotate(-30) translate(-26.03 0)" stroke="#000" stroke-width="0.35"><tspan x="0.53" textLength="7.68" lengthAdjust="spacingAndGlyphs">S</tspan><tspan x="8.63" textLength="7.68" lengthAdjust="spacingAndGlyphs">S</tspan><tspan x="16.46" textLength="9.87" lengthAdjust="spacingAndGlyphs">A</tspan></text>
<text y="0" font-size="12.72" font-weight="bold" transform="translate(530.71 538.6) rotate(-30) translate(-27.03 0)" stroke="#000" stroke-width="0.35"><tspan x="-0.1" textLength="8.36" lengthAdjust="spacingAndGlyphs">T</tspan><tspan x="8.71" textLength="7.68" lengthAdjust="spacingAndGlyphs">S</tspan><tspan x="16.89" textLength="10.08" lengthAdjust="spacingAndGlyphs">O</tspan></text>
<text y="0" font-size="12.72" font-weight="bold" transform="translate(557.59 538.6) rotate(-30) translate(-35.49 0)" stroke="#000" stroke-width="0.35"><tspan x="-0.36" textLength="9.39" lengthAdjust="spacingAndGlyphs">Y</tspan><tspan x="8.89" textLength="9.69" lengthAdjust="spacingAndGlyphs">D</tspan><tspan x="19.18" textLength="7.68" lengthAdjust="spacingAndGlyphs">S</tspan><tspan x="27.65" textLength="7.39" lengthAdjust="spacingAndGlyphs">E</tspan></text>
<text y="0" font-size="12.72" font-weight="bold" transform="translate(584.47 538.6) rotate(-30) translate(-28.48 0)" stroke="#000" stroke-width="0.35"><tspan x="0.21" textLength="9.63" lengthAdjust="spacingAndGlyphs">H</tspan><tspan x="10.35" textLength="8.53" lengthAdjust="spacingAndGlyphs">B</tspan><tspan x="18.91" textLength="9.87" lengthAdjust="spacingAndGlyphs">A</tspan></text>
<text y="0" font-size="12.72" font-weight="bold" transform="translate(611.35 538.6) rotate(-30) translate(-36.71 0)" stroke="#000" stroke-width="0.35"><tspan x="-0.28" textLength="9.87" lengthAdjust="spacingAndGlyphs">A</tspan><tspan x="8.44" textLength="9.36" lengthAdjust="spacingAndGlyphs">V</tspan><tspan x="17.62" textLength="10.08" lengthAdjust="spacingAndGlyphs">O</tspan><tspan x="27.15" textLength="9.87" lengthAdjust="spacingAndGlyphs">A</tspan></text>
<text y="0" font-size="12.72" font-weight="bold" transform="translate(638.23 538.6) rotate(-30) translate(-29.29 0)" stroke="#000" stroke-width="0.35"><tspan x="0.09" textLength="9.64" lengthAdjust="spacingAndGlyphs">G</tspan><tspan x="10.12" textLength="8.99" lengthAdjust="spacingAndGlyphs">R</tspan><tspan x="19.16" textLength="10.08" lengthAdjust="spacingAndGlyphs">O</tspan></text>
<text y="0" font-size="12.72" font-weight="bold" transform="translate(665.11 538.6) rotate(-30) translate(-55.76 0)" stroke="#000" stroke-width="0.35"><tspan x="0.27" textLength="8.99" lengthAdjust="spacingAndGlyphs">R</tspan><tspan x="9.58" textLength="12.53" lengthAdjust="spacingAndGlyphs">W</tspan><tspan x="22.57" textLength="9.64" lengthAdjust="spacingAndGlyphs">G</tspan><tspan x="32.67" textLength="12.53" lengthAdjust="spacingAndGlyphs">W</tspan><tspan x="45.63" textLength="10.08" lengthAdjust="spacingAndGlyphs">O</tspan></text>
<text y="0" font-size="15.26" font-weight="bold" transform="translate(530.96 314.3)" stroke="#000" stroke-width="0.35"><tspan x="0.36" textLength="8.8" lengthAdjust="spacingAndGlyphs">F</tspan><tspan x="10.46" textLength="8.85" lengthAdjust="spacingAndGlyphs">1</tspan><tspan x="19.83" textLength="10.11" lengthAdjust="spacingAndGlyphs">0</tspan></text>
<text y="0" font-size="12.72" font-weight="normal" transform="translate(411.5 317.3)" stroke="#000" stroke-width="0.1"><tspan x="0.4" textLength="6.72" lengthAdjust="spacingAndGlyphs">1</tspan><tspan x="7.75" textLength="7.21" lengthAdjust="spacingAndGlyphs">e</tspan><tspan x="15.28" textLength="7.11" lengthAdjust="spacingAndGlyphs">8</tspan></text>
<clipPath id="c4"><rect x="34.5" y="617.5" width="269.1" height="199.8"/></clipPath>
<path d="M47.95 817.3V617.5M74.87 817.3V617.5M101.78 817.3V617.5M128.69 817.3V617.5M155.6 817.3V617.5M182.51 817.3V617.5M209.42 817.3V617.5M236.33 817.3V617.5M263.24 817.3V617.5M290.15 817.3V617.5M34.5 808.3H303.6M34.5 763H303.6M34.5 717.7H303.6M34.5 672.5H303.6M34.5 627.3H303.6" stroke="#b0b0b0" stroke-width="0.6" stroke-opacity="0.7" stroke-dasharray="2.22 0.96" fill="none" clip-path="url(#c4)"/>
<path d="M45.55 808.2H50.35 M47.95 805.8V810.6" stroke="#f00" stroke-width="1.2" fill="none"/>
<path d="M42.57 808.2H53.34" stroke="#ff7f0e" stroke-width="1.2" stroke-linecap="square"/>
<path d="M72.47 806.6H77.27 M74.87 804.2V809M72.47 807.4H77.27 M74.87 805V809.8M72.47 808.2H77.27 M74.87 805.8V810.6" stroke="#f00" stroke-width="1.2" fill="none"/>
<path d="M69.48 808.2H80.25" stroke="#ff7f0e" stroke-width="1.2" stroke-linecap="square"/>
<path d="M99.38 808.2H104.18 M101.78 805.8V810.6" stroke="#f00" stroke-width="1.2" fill="none"/>
<path d="M96.39 808.2H107.16" stroke="#ff7f0e" stroke-width="1.2" stroke-linecap="square"/>
<path d="M126.28 808.2H131.09 M128.69 805.8V810.6" stroke="#f00" stroke-width="1.2" fill="none"/>
<path d="M123.3 808.2H134.07" stroke="#ff7f0e" stroke-width="1.2" stroke-linecap="square"/>
<path d="M155.6 781.9V788.4 M155.6 777.6V777.4 M152.9 788.4H158.29 M152.9 777.4H158.29" stroke="#000" stroke-width="1.2" stroke-linecap="square" fill="none"/>
<rect x="150.21" y="777.6" width="10.76" height="4.3" fill="#800080" stroke="#000" stroke-width="1.2"/>
<path d="M153.2 789.7H158 M155.6 787.3V792.1M153.2 795.5H158 M155.6 793.1V797.9M153.2 804.3H158 M155.6 801.9V806.7" stroke="#f00" stroke-width="1.2" fill="none"/>
<path d="M150.21 777.4H160.98" stroke="#ff7f0e" stroke-width="1.2" stroke-linecap="square"/>
<path d="M182.51 762.3V792.4 M182.51 689.1V626.1 M179.81 792.4H185.2 M179.81 626.1H185.2" stroke="#000" stroke-width="1.2" stroke-linecap="square" fill="none"/>
<rect x="177.12" y="689.1" width="10.76" height="73.2" fill="#a52a2a" stroke="#000" stroke-width="1.2"/>
<path d="M177.12 735.2H187.89" stroke="#ff7f0e" stroke-width="1.2" stroke-linecap="square"/>
<path d="M207.02 808.2H211.82 M209.42 805.8V810.6" stroke="#f00" stroke-width="1.2" fill="none"/>
<path d="M204.03 808.2H214.8" stroke="#ff7f0e" stroke-width="1.2" stroke-linecap="square"/>
<path d="M233.93 808.2H238.73 M236.33 805.8V810.6" stroke="#f00" stroke-width="1.2" fill="none"/>
<path d="M230.94 808.2H241.71" stroke="#ff7f0e" stroke-width="1.2" stroke-linecap="square"/>
<path d="M260.84 808.2H265.63 M263.24 805.8V810.6" stroke="#f00" stroke-width="1.2" fill="none"/>
<path d="M257.85 808.2H268.62" stroke="#ff7f0e" stroke-width="1.2" stroke-linecap="square"/>
<path d="M287.75 808.2H292.55 M290.15 805.8V810.6" stroke="#f00" stroke-width="1.2" fill="none"/>
<path d="M284.76 808.2H295.53" stroke="#ff7f0e" stroke-width="1.2" stroke-linecap="square"/>
<rect x="34.5" y="617.5" width="269.1" height="199.8" fill="none" stroke="#000" stroke-width="0.96"/>
<path d="M47.95 817.3v4.2M74.87 817.3v4.2M101.78 817.3v4.2M128.69 817.3v4.2M155.6 817.3v4.2M182.51 817.3v4.2M209.42 817.3v4.2M236.33 817.3v4.2M263.24 817.3v4.2M290.15 817.3v4.2M34.5 808.3h-4.2M34.5 763h-4.2M34.5 717.7h-4.2M34.5 672.5h-4.2M34.5 627.3h-4.2" stroke="#000" stroke-width="0.96"/>
<text y="0" font-size="12.72" font-weight="bold" transform="translate(4.84 813.16)" stroke="#000" stroke-width="0.35"><tspan x="-0.02" textLength="8.42" lengthAdjust="spacingAndGlyphs">0</tspan><tspan x="8.56" textLength="4.15" lengthAdjust="spacingAndGlyphs">.</tspan><tspan x="12.88" textLength="8.42" lengthAdjust="spacingAndGlyphs">0</tspan></text>
<text y="0" font-size="12.72" font-weight="bold" transform="translate(4.84 767.86)" stroke="#000" stroke-width="0.35"><tspan x="-0.02" textLength="8.42" lengthAdjust="spacingAndGlyphs">0</tspan><tspan x="8.56" textLength="4.15" lengthAdjust="spacingAndGlyphs">.</tspan><tspan x="13.43" textLength="7.36" lengthAdjust="spacingAndGlyphs">5</tspan></text>
<text y="0" font-size="12.72" font-weight="bold" transform="translate(4.84 722.56)" stroke="#000" stroke-width="0.35"><tspan x="0.52" textLength="7.37" lengthAdjust="spacingAndGlyphs">1</tspan><tspan x="8.56" textLength="4.15" lengthAdjust="spacingAndGlyphs">.</tspan><tspan x="12.88" textLength="8.42" lengthAdjust="spacingAndGlyphs">0</tspan></text>
<text y="0" font-size="12.72" font-weight="bold" transform="translate(4.84 677.36)" stroke="#000" stroke-width="0.35"><tspan x="0.52" textLength="7.37" lengthAdjust="spacingAndGlyphs">1</tspan><tspan x="8.56" textLength="4.15" lengthAdjust="spacingAndGlyphs">.</tspan><tspan x="13.43" textLength="7.36" lengthAdjust="spacingAndGlyphs">5</tspan></text>
<text y="0" font-size="12.72" font-weight="bold" transform="translate(4.84 632.16)" stroke="#000" stroke-width="0.35"><tspan x="0.49" textLength="7.34" lengthAdjust="spacingAndGlyphs">2</tspan><tspan x="8.56" textLength="4.15" lengthAdjust="spacingAndGlyphs">.</tspan><tspan x="12.88" textLength="8.42" lengthAdjust="spacingAndGlyphs">0</tspan></text>
<text y="0" font-size="12.72" font-weight="bold" transform="translate(46.2 834.6) rotate(-30) translate(-45.98 0)" stroke="#000" stroke-width="0.35"><tspan x="0.29" textLength="7.4" lengthAdjust="spacingAndGlyphs">L</tspan><tspan x="7.06" textLength="12.53" lengthAdjust="spacingAndGlyphs">W</tspan><tspan x="20.48" textLength="7.68" lengthAdjust="spacingAndGlyphs">S</tspan><tspan x="28.58" textLength="7.68" lengthAdjust="spacingAndGlyphs">S</tspan><tspan x="36.42" textLength="9.87" lengthAdjust="spacingAndGlyphs">A</tspan></text>
<text y="0" font-size="12.72" font-weight="bold" transform="translate(73.12 834.6) rotate(-30) translate(-28.36 0)" stroke="#000" stroke-width="0.35"><tspan x="0.36" textLength="7.39" lengthAdjust="spacingAndGlyphs">E</tspan><tspan x="8.4" textLength="9.69" lengthAdjust="spacingAndGlyphs">D</tspan><tspan x="18.22" textLength="10.08" lengthAdjust="spacingAndGlyphs">O</tspan></text>
<text y="0" font-size="12.72" font-weight="bold" transform="translate(100.03 834.6) rotate(-30) translate(-30.34 0)" stroke="#000" stroke-width="0.35"><tspan x="0.17" textLength="11.59" lengthAdjust="spacingAndGlyphs">M</tspan><tspan x="12.24" textLength="7.33" lengthAdjust="spacingAndGlyphs">F</tspan><tspan x="20.21" textLength="10.08" lengthAdjust="spacingAndGlyphs">O</tspan></text>
<text y="0" font-size="12.72" font-weight="bold" transform="translate(126.94 834.6) rotate(-30) translate(-26.03 0)" stroke="#000" stroke-width="0.35"><tspan x="0.53" textLength="7.68" lengthAdjust="spacingAndGlyphs">S</tspan><tspan x="8.63" textLength="7.68" lengthAdjust="spacingAndGlyphs">S</tspan><tspan x="16.46" textLength="9.87" lengthAdjust="spacingAndGlyphs">A</tspan></text>
<text y="0" font-size="12.72" font-weight="bold" transform="translate(153.85 834.6) rotate(-30) translate(-27.03 0)" stroke="#000" stroke-width="0.35"><tspan x="-0.1" textLength="8.36" lengthAdjust="spacingAndGlyphs">T</tspan><tspan x="8.71" textLength="7.68" lengthAdjust="spacingAndGlyphs">S</tspan><tspan x="16.89" textLength="10.08" lengthAdjust="spacingAndGlyphs">O</tspan></text>
<text y="0" font-size="12.72" font-weight="bold" transform="translate(180.76 834.6) rotate(-30) translate(-35.49 0)" stroke="#000" stroke-width="0.35"><tspan x="-0.36" textLength="9.39" lengthAdjust="spacingAndGlyphs">Y</tspan><tspan x="8.89" textLength="9.69" lengthAdjust="spacingAndGlyphs">D</tspan><tspan x="19.18" textLength="7.68" lengthAdjust="spacingAndGlyphs">S</tspan><tspan x="27.65" textLength="7.39" lengthAdjust="spacingAndGlyphs">E</tspan></text>
<text y="0" font-size="12.72" font-weight="bold" transform="translate(207.67 834.6) rotate(-30) translate(-28.48 0)" stroke="#000" stroke-width="0.35"><tspan x="0.21" textLength="9.63" lengthAdjust="spacingAndGlyphs">H</tspan><tspan x="10.35" textLength="8.53" lengthAdjust="spacingAndGlyphs">B</tspan><tspan x="18.91" textLength="9.87" lengthAdjust="spacingAndGlyphs">A</tspan></text>
<text y="0" font-size="12.72" font-weight="bold" transform="translate(234.58 834.6) rotate(-30) translate(-36.71 0)" stroke="#000" stroke-width="0.35"><tspan x="-0.28" textLength="9.87" lengthAdjust="spacingAndGlyphs">A</tspan><tspan x="8.44" textLength="9.36" lengthAdjust="spacingAndGlyphs">V</tspan><tspan x="17.62" textLength="10.08" lengthAdjust="spacingAndGlyphs">O</tspan><tspan x="27.15" textLength="9.87" lengthAdjust="spacingAndGlyphs">A</tspan></text>
<text y="0" font-size="12.72" font-weight="bold" transform="translate(261.49 834.6) rotate(-30) translate(-29.29 0)" stroke="#000" stroke-width="0.35"><tspan x="0.09" textLength="9.64" lengthAdjust="spacingAndGlyphs">G</tspan><tspan x="10.12" textLength="8.99" lengthAdjust="spacingAndGlyphs">R</tspan><tspan x="19.16" textLength="10.08" lengthAdjust="spacingAndGlyphs">O</tspan></text>
<text y="0" font-size="12.72" font-weight="bold" transform="translate(288.4 834.6) rotate(-30) translate(-55.76 0)" stroke="#000" stroke-width="0.35"><tspan x="0.27" textLength="8.99" lengthAdjust="spacingAndGlyphs">R</tspan><tspan x="9.58" textLength="12.53" lengthAdjust="spacingAndGlyphs">W</tspan><tspan x="22.57" textLength="9.64" lengthAdjust="spacingAndGlyphs">G</tspan><tspan x="32.67" textLength="12.53" lengthAdjust="spacingAndGlyphs">W</tspan><tspan x="45.63" textLength="10.08" lengthAdjust="spacingAndGlyphs">O</tspan></text>
<text y="0" font-size="15.26" font-weight="bold" transform="translate(154.11 610.3)" stroke="#000" stroke-width="0.35"><tspan x="0.36" textLength="8.8" lengthAdjust="spacingAndGlyphs">F</tspan><tspan x="10.46" textLength="8.85" lengthAdjust="spacingAndGlyphs">1</tspan><tspan x="20.48" textLength="8.85" lengthAdjust="spacingAndGlyphs">1</tspan></text>
<text y="0" font-size="12.72" font-weight="normal" transform="translate(34.5 614)" stroke="#000" stroke-width="0.1"><tspan x="0.4" textLength="6.72" lengthAdjust="spacingAndGlyphs">1</tspan><tspan x="7.75" textLength="7.21" lengthAdjust="spacingAndGlyphs">e</tspan><tspan x="15.16" textLength="7.27" lengthAdjust="spacingAndGlyphs">9</tspan></text>
<clipPath id="c5"><rect x="411.5" y="617.5" width="268.8" height="199.8"/></clipPath>
<path d="M424.94 817.3V617.5M451.82 817.3V617.5M478.7 817.3V617.5M505.58 817.3V617.5M532.46 817.3V617.5M559.34 817.3V617.5M586.22 817.3V617.5M613.1 817.3V617.5M639.98 817.3V617.5M666.86 817.3V617.5M411.5 808.3H680.3M411.5 768H680.3M411.5 727.7H680.3M411.5 687.4H680.3M411.5 647.1H680.3" stroke="#b0b0b0" stroke-width="0.6" stroke-opacity="0.7" stroke-dasharray="2.22 0.96" fill="none" clip-path="url(#c5)"/>
<path d="M422.54 808H427.34 M424.94 805.6V810.4" stroke="#f00" stroke-width="1.2" fill="none"/>
<path d="M419.56 808.3H430.32" stroke="#ff7f0e" stroke-width="1.2" stroke-linecap="square"/>
<path d="M449.42 808H454.22 M451.82 805.6V810.4" stroke="#f00" stroke-width="1.2" fill="none"/>
<path d="M446.44 808.3H457.2" stroke="#ff7f0e" stroke-width="1.2" stroke-linecap="square"/>
<path d="M476.3 808H481.1 M478.7 805.6V810.4" stroke="#f00" stroke-width="1.2" fill="none"/>
<path d="M473.32 808.3H484.08" stroke="#ff7f0e" stroke-width="1.2" stroke-linecap="square"/>
<path d="M500.2 808.3H510.96" stroke="#ff7f0e" stroke-width="1.2" stroke-linecap="square"/>
<path d="M532.46 801.9V803.8 M532.46 799.3V798.8 M529.77 803.8H535.15 M529.77 798.8H535.15" stroke="#000" stroke-width="1.2" stroke-linecap="square" fill="none"/>
<rect x="527.08" y="799.3" width="10.75" height="2.6" fill="#800080" stroke="#000" stroke-width="1.2"/>
<path d="M530.06 807.3H534.86 M532.46 804.9V809.7M530.06 808.1H534.86 M532.46 805.7V810.5" stroke="#f00" stroke-width="1.2" fill="none"/>
<path d="M527.08 799H537.84" stroke="#ff7f0e" stroke-width="1.2" stroke-linecap="square"/>
<path d="M559.34 800.6V807.6 M559.34 772.3V743.2 M556.65 807.6H562.03 M556.65 743.2H562.03" stroke="#000" stroke-width="1.2" stroke-linecap="square" fill="none"/>
<rect x="553.96" y="772.3" width="10.75" height="28.3" fill="#a52a2a" stroke="#000" stroke-width="1.2"/>
<path d="M556.94 626.3H561.74 M559.34 623.9V628.7M556.94 646.6H561.74 M559.34 644.2V649" stroke="#f00" stroke-width="1.2" fill="none"/>
<path d="M553.96 793.2H564.72" stroke="#ff7f0e" stroke-width="1.2" stroke-linecap="square"/>
<path d="M580.84 808.3H591.6" stroke="#ff7f0e" stroke-width="1.2" stroke-linecap="square"/>
<path d="M610.7 808.2H615.5 M613.1 805.8V810.6" stroke="#f00" stroke-width="1.2" fill="none"/>
<path d="M607.72 798.8H618.48" stroke="#ff7f0e" stroke-width="1.2" stroke-linecap="square"/>
<path d="M637.58 808H642.38 M639.98 805.6V810.4" stroke="#f00" stroke-width="1.2" fill="none"/>
<path d="M634.6 808.3H645.36" stroke="#ff7f0e" stroke-width="1.2" stroke-linecap="square"/>
<path d="M661.48 808.3H672.24" stroke="#ff7f0e" stroke-width="1.2" stroke-linecap="square"/>
<rect x="411.5" y="617.5" width="268.8" height="199.8" fill="none" stroke="#000" stroke-width="0.96"/>
<path d="M424.94 817.3v4.2M451.82 817.3v4.2M478.7 817.3v4.2M505.58 817.3v4.2M532.46 817.3v4.2M559.34 817.3v4.2M586.22 817.3v4.2M613.1 817.3v4.2M639.98 817.3v4.2M666.86 817.3v4.2M411.5 808.3h-4.2M411.5 768h-4.2M411.5 727.7h-4.2M411.5 687.4h-4.2M411.5 647.1h-4.2" stroke="#000" stroke-width="0.96"/>
<text y="0" font-size="12.72" font-weight="bold" transform="translate(381.84 813.16)" stroke="#000" stroke-width="0.35"><tspan x="-0.02" textLength="8.42" lengthAdjust="spacingAndGlyphs">0</tspan><tspan x="8.56" textLength="4.15" lengthAdjust="spacingAndGlyphs">.</tspan><tspan x="12.88" textLength="8.42" lengthAdjust="spacingAndGlyphs">0</tspan></text>
<text y="0" font-size="12.72" font-weight="bold" transform="translate(381.84 772.86)" stroke="#000" stroke-width="0.35"><tspan x="-0.02" textLength="8.42" lengthAdjust="spacingAndGlyphs">0</tspan><tspan x="8.56" textLength="4.15" lengthAdjust="spacingAndGlyphs">.</tspan><tspan x="13.43" textLength="7.36" lengthAdjust="spacingAndGlyphs">5</tspan></text>
<text y="0" font-size="12.72" font-weight="bold" transform="translate(381.84 732.56)" stroke="#000" stroke-width="0.35"><tspan x="0.52" textLength="7.37" lengthAdjust="spacingAndGlyphs">1</tspan><tspan x="8.56" textLength="4.15" lengthAdjust="spacingAndGlyphs">.</tspan><tspan x="12.88" textLength="8.42" lengthAdjust="spacingAndGlyphs">0</tspan></text>
<text y="0" font-size="12.72" font-weight="bold" transform="translate(381.84 692.26)" stroke="#000" stroke-width="0.35"><tspan x="0.52" textLength="7.37" lengthAdjust="spacingAndGlyphs">1</tspan><tspan x="8.56" textLength="4.15" lengthAdjust="spacingAndGlyphs">.</tspan><tspan x="13.43" textLength="7.36" lengthAdjust="spacingAndGlyphs">5</tspan></text>
<text y="0" font-size="12.72" font-weight="bold" transform="translate(381.84 651.96)" stroke="#000" stroke-width="0.35"><tspan x="0.49" textLength="7.34" lengthAdjust="spacingAndGlyphs">2</tspan><tspan x="8.56" textLength="4.15" lengthAdjust="spacingAndGlyphs">.</tspan><tspan x="12.88" textLength="8.42" lengthAdjust="spacingAndGlyphs">0</tspan></text>
<text y="0" font-size="12.72" font-weight="bold" transform="translate(423.19 834.6) rotate(-30) translate(-45.98 0)" stroke="#000" stroke-width="0.35"><tspan x="0.29" textLength="7.4" lengthAdjust="spacingAndGlyphs">L</tspan><tspan x="7.06" textLength="12.53" lengthAdjust="spacingAndGlyphs">W</tspan><tspan x="20.48" textLength="7.68" lengthAdjust="spacingAndGlyphs">S</tspan><tspan x="28.58" textLength="7.68" lengthAdjust="spacingAndGlyphs">S</tspan><tspan x="36.42" textLength="9.87" lengthAdjust="spacingAndGlyphs">A</tspan></text>
<text y="0" font-size="12.72" font-weight="bold" transform="translate(450.07 834.6) rotate(-30) translate(-28.36 0)" stroke="#000" stroke-width="0.35"><tspan x="0.36" textLength="7.39" lengthAdjust="spacingAndGlyphs">E</tspan><tspan x="8.4" textLength="9.69" lengthAdjust="spacingAndGlyphs">D</tspan><tspan x="18.22" textLength="10.08" lengthAdjust="spacingAndGlyphs">O</tspan></text>
<text y="0" font-size="12.72" font-weight="bold" transform="translate(476.95 834.6) rotate(-30) translate(-30.34 0)" stroke="#000" stroke-width="0.35"><tspan x="0.17" textLength="11.59" lengthAdjust="spacingAndGlyphs">M</tspan><tspan x="12.24" textLength="7.33" lengthAdjust="spacingAndGlyphs">F</tspan><tspan x="20.21" textLength="10.08" lengthAdjust="spacingAndGlyphs">O</tspan></text>
<text y="0" font-size="12.72" font-weight="bold" transform="translate(503.83 834.6) rotate(-30) translate(-26.03 0)" stroke="#000" stroke-width="0.35"><tspan x="0.53" textLength="7.68" lengthAdjust="spacingAndGlyphs">S</tspan><tspan x="8.63" textLength="7.68" lengthAdjust="spacingAndGlyphs">S</tspan><tspan x="16.46" textLength="9.87" lengthAdjust="spacingAndGlyphs">A</tspan></text>
<text y="0" font-size="12.72" font-weight="bold" transform="translate(530.71 834.6) rotate(-30) translate(-27.03 0)" stroke="#000" stroke-width="0.35"><tspan x="-0.1" textLength="8.36" lengthAdjust="spacingAndGlyphs">T</tspan><tspan x="8.71" textLength="7.68" lengthAdjust="spacingAndGlyphs">S</tspan><tspan x="16.89" textLength="10.08" lengthAdjust="spacingAndGlyphs">O</tspan></text>
<text y="0" font-size="12.72" font-weight="bold" transform="translate(557.59 834.6) rotate(-30) translate(-35.49 0)" stroke="#000" stroke-width="0.35"><tspan x="-0.36" textLength="9.39" lengthAdjust="spacingAndGlyphs">Y</tspan><tspan x="8.89" textLength="9.69" lengthAdjust="spacingAndGlyphs">D</tspan><tspan x="19.18" textLength="7.68" lengthAdjust="spacingAndGlyphs">S</tspan><tspan x="27.65" textLength="7.39" lengthAdjust="spacingAndGlyphs">E</tspan></text>
<text y="0" font-size="12.72" font-weight="bold" transform="translate(584.47 834.6) rotate(-30) translate(-28.48 0)" stroke="#000" stroke-width="0.35"><tspan x="0.21" textLength="9.63" lengthAdjust="spacingAndGlyphs">H</tspan><tspan x="10.35" textLength="8.53" lengthAdjust="spacingAndGlyphs">B</tspan><tspan x="18.91" textLength="9.87" lengthAdjust="spacingAndGlyphs">A</tspan></text>
<text y="0" font-size="12.72" font-weight="bold" transform="translate(611.35 834.6) rotate(-30) translate(-36.71 0)" stroke="#000" stroke-width="0.35"><tspan x="-0.28" textLength="9.87" lengthAdjust="spacingAndGlyphs">A</tspan><tspan x="8.44" textLength="9.36" lengthAdjust="spacingAndGlyphs">V</tspan><tspan x="17.62" textLength="10.08" lengthAdjust="spacingAndGlyphs">O</tspan><tspan x="27.15" textLength="9.87" lengthAdjust="spacingAndGlyphs">A</tspan></text>
<text y="0" font-size="12.72" font-weight="bold" transform="translate(638.23 834.6) rotate(-30) translate(-29.29 0)" stroke="#000" stroke-width="0.35"><tspan x="0.09" textLength="9.64" lengthAdjust="spacingAndGlyphs">G</tspan><tspan x="10.12" textLength="8.99" lengthAdjust="spacingAndGlyphs">R</tspan><tspan x="19.16" textLength="10.08" lengthAdjust="spacingAndGlyphs">O</tspan></text>
<text y="0" font-size="12.72" font-weight="bold" transform="translate(665.11 834.6) rotate(-30) translate(-55.76 0)" stroke="#000" stroke-width="0.35"><tspan x="0.27" textLength="8.99" lengthAdjust="spacingAndGlyphs">R</tspan><tspan x="9.58" textLength="12.53" lengthAdjust="spacingAndGlyphs">W</tspan><tspan x="22.57" textLength="9.64" lengthAdjust="spacingAndGlyphs">G</tspan><tspan x="32.67" textLength="12.53" lengthAdjust="spacingAndGlyphs">W</tspan><tspan x="45.63" textLength="10.08" lengthAdjust="spacingAndGlyphs">O</tspan></text>
<text y="0" font-size="15.26" font-weight="bold" transform="translate(530.96 610.3)" stroke="#000" stroke-width="0.35"><tspan x="0.36" textLength="8.8" lengthAdjust="spacingAndGlyphs">F</tspan><tspan x="10.46" textLength="8.85" lengthAdjust="spacingAndGlyphs">1</tspan><tspan x="20.45" textLength="8.81" lengthAdjust="spacingAndGlyphs">2</tspan></text>
<text y="0" font-size="12.72" font-weight="normal" transform="translate(411.5 614)" stroke="#000" stroke-width="0.1"><tspan x="0.4" textLength="6.72" lengthAdjust="spacingAndGlyphs">1</tspan><tspan x="7.75" textLength="7.21" lengthAdjust="spacingAndGlyphs">e</tspan><tspan x="15.42" textLength="6.72" lengthAdjust="spacingAndGlyphs">1</tspan><tspan x="22.95" textLength="7.04" lengthAdjust="spacingAndGlyphs">4</tspan></text>
</svg></body></html>
